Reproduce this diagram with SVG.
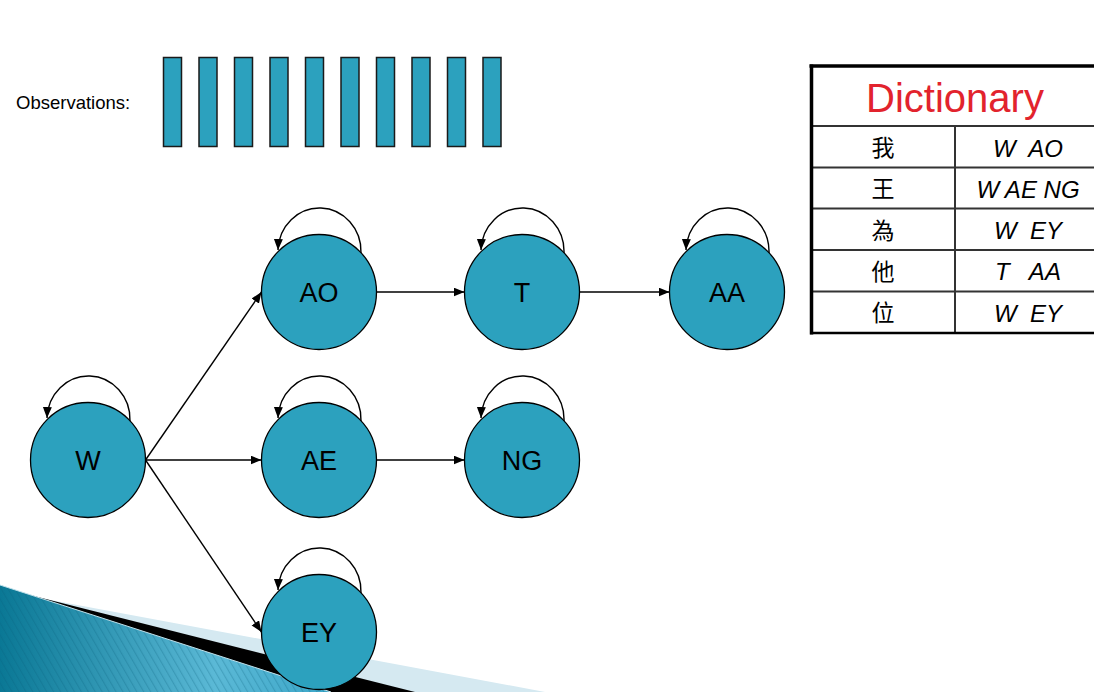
<svg xmlns="http://www.w3.org/2000/svg" width="1094" height="692" viewBox="0 0 1094 692">
<defs>
<style>
.node circle{fill:#2ca1be;stroke:#000;stroke-width:1.3}
.node text{font-family:"Liberation Sans",Arial,sans-serif;font-size:27px;fill:#000;text-anchor:middle}
.edge{fill:none;stroke:#000;stroke-width:1.4;marker-end:url(#arr)}
.obs{fill:#2ca1be;stroke:#1a1a1a;stroke-width:1.5}
.grid{stroke:#333;stroke-width:2}
.zh{font-family:"Noto Sans CJK TC","Noto Sans CJK SC",sans-serif;font-size:23px;text-anchor:middle;fill:#000}
.ph{font-family:"Liberation Sans",Arial,sans-serif;font-size:24px;font-style:italic;text-anchor:middle;fill:#000;white-space:pre}
</style>
<marker id="arr" markerUnits="userSpaceOnUse" markerWidth="12" markerHeight="10" refX="11" refY="4.5" orient="auto">
<path d="M0,0 L11,4.5 L0,9 z" fill="#000"/>
</marker>
<linearGradient id="teal" x1="0" y1="0" x2="1" y2="0">
<stop offset="0" stop-color="#0a7895"/>
<stop offset="0.65" stop-color="#5bb9d6"/>
<stop offset="1" stop-color="#3ba6c8"/>
</linearGradient>
<pattern id="stripes" width="6" height="6" patternUnits="userSpaceOnUse" patternTransform="rotate(-30)">
<rect x="0" y="0" width="1.2" height="6" fill="#06607a" opacity="0.25"/>
</pattern>
</defs>
<rect width="1094" height="692" fill="#fff"/>
<g id="decoration">
<polygon points="45,599 545,692 0,692" fill="#d5e9f1"/>
<polygon points="26,594 415,692 0,692" fill="#000"/>
<polygon points="0,585 331,692 0,692" fill="url(#teal)"/>
<polygon points="0,585 331,692 0,692" fill="url(#stripes)"/>
<line x1="0" y1="585" x2="331" y2="692" stroke="#bfe0ea" stroke-width="1"/>
</g>
<g id="observations">
<text x="16" y="109" font-family="Liberation Sans,Arial,sans-serif" font-size="18.5" fill="#000">Observations:</text>
<rect class="obs" x="163.5" y="57.5" width="18" height="89"/>
<rect class="obs" x="199" y="57.5" width="18" height="89"/>
<rect class="obs" x="234.5" y="57.5" width="18" height="89"/>
<rect class="obs" x="270" y="57.5" width="18" height="89"/>
<rect class="obs" x="305.5" y="57.5" width="18" height="89"/>
<rect class="obs" x="341" y="57.5" width="18" height="89"/>
<rect class="obs" x="376.5" y="57.5" width="18" height="89"/>
<rect class="obs" x="412" y="57.5" width="18" height="89"/>
<rect class="obs" x="447.5" y="57.5" width="18" height="89"/>
<rect class="obs" x="483" y="57.5" width="18" height="89"/>
</g>
<g id="dictionary">
<rect x="811" y="66" width="300" height="267" fill="#fff" stroke="none"/>
<line class="grid" x1="811" y1="126" x2="1094" y2="126"/>
<line class="grid" x1="811" y1="167.5" x2="1094" y2="167.5"/>
<line class="grid" x1="811" y1="208.5" x2="1094" y2="208.5"/>
<line class="grid" x1="811" y1="250" x2="1094" y2="250"/>
<line class="grid" x1="811" y1="291.5" x2="1094" y2="291.5"/>
<line class="grid" x1="955" y1="126" x2="955" y2="333"/>
<line x1="809.5" y1="66" x2="1094" y2="66" stroke="#000" stroke-width="3.5"/>
<line x1="811.5" y1="64.5" x2="811.5" y2="334.5" stroke="#000" stroke-width="3.5"/>
<line x1="810" y1="333" x2="1094" y2="333" stroke="#000" stroke-width="2.5"/>
<text x="955" y="111.5" font-family="Liberation Sans,Arial,sans-serif" font-size="40" fill="#e2232d" text-anchor="middle">Dictionary</text>
<text class="zh" x="883" y="156">我</text>
<text class="zh" x="883" y="197">王</text>
<text class="zh" x="883" y="238.5">為</text>
<text class="zh" x="883" y="280">他</text>
<text class="zh" x="883" y="321">位</text>
<text class="ph" x="1028" y="156.5" xml:space="preserve">W  AO</text>
<text class="ph" x="1028" y="197.5" xml:space="preserve">W AE NG</text>
<text class="ph" x="1028" y="239" xml:space="preserve">W  EY</text>
<text class="ph" x="1028" y="280" xml:space="preserve">T   AA</text>
<text class="ph" x="1028" y="321.5" xml:space="preserve">W  EY</text>
</g>
<g id="connectors">
<line class="edge" x1="145.5" y1="460" x2="261.5" y2="292"/>
<line class="edge" x1="145.5" y1="460" x2="261.5" y2="460"/>
<line class="edge" x1="145.5" y1="460" x2="261.5" y2="632"/>
<line class="edge" x1="376.5" y1="292" x2="464.5" y2="292"/>
<line class="edge" x1="579.5" y1="292" x2="669.5" y2="292"/>
<line class="edge" x1="376.5" y1="460" x2="464.5" y2="460"/>
<path class="edge" d="M130,421 A41,43 0 0 0 47,418"/>
<path class="edge" d="M361,253 A41,43 0 0 0 278,250"/>
<path class="edge" d="M564,253 A41,43 0 0 0 481,250"/>
<path class="edge" d="M769,253 A41,43 0 0 0 686,250"/>
<path class="edge" d="M361,421 A41,43 0 0 0 278,418"/>
<path class="edge" d="M564,421 A41,43 0 0 0 481,418"/>
<path class="edge" d="M361,593 A41,43 0 0 0 278,590"/>
</g>
<g id="node-W" class="node"><circle cx="88" cy="460" r="57.5"/><text x="88" y="470">W</text></g>
<g id="node-AO" class="node"><circle cx="319" cy="292" r="57.5"/><text x="319" y="302">AO</text></g>
<g id="node-T" class="node"><circle cx="522" cy="292" r="57.5"/><text x="522" y="302">T</text></g>
<g id="node-AA" class="node"><circle cx="727" cy="292" r="57.5"/><text x="727" y="302">AA</text></g>
<g id="node-AE" class="node"><circle cx="319" cy="460" r="57.5"/><text x="319" y="470">AE</text></g>
<g id="node-NG" class="node"><circle cx="522" cy="460" r="57.5"/><text x="522" y="470">NG</text></g>
<g id="node-EY" class="node"><circle cx="319" cy="632" r="57.5"/><text x="319" y="642">EY</text></g>
</svg>
